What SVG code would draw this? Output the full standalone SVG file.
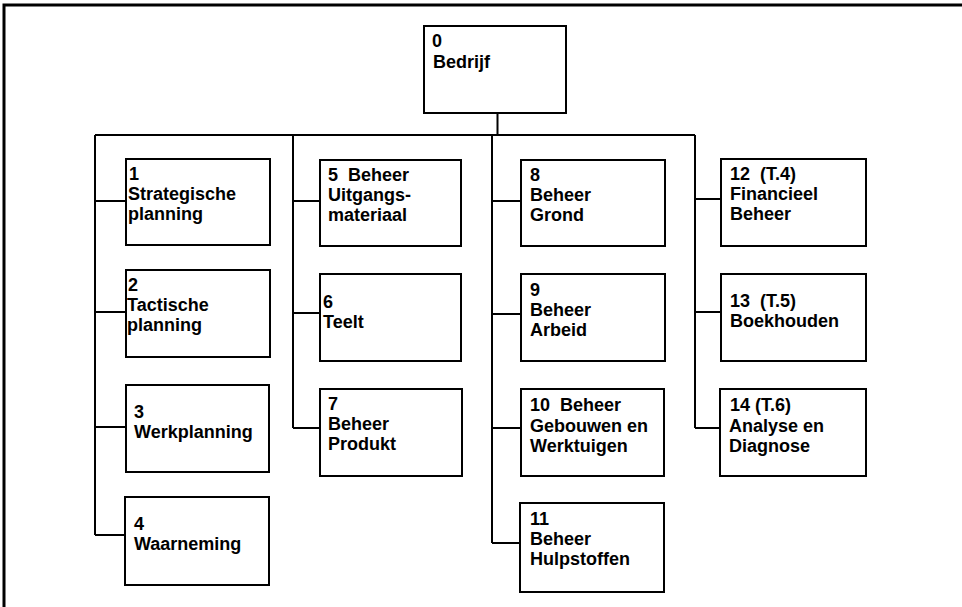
<svg xmlns="http://www.w3.org/2000/svg" width="962" height="607" viewBox="0 0 962 607">
<style>
.box{fill:#fff;stroke:#000;stroke-width:2}
.ln{fill:none;stroke:#000;stroke-width:2}
.fr{fill:none;stroke:#000;stroke-width:3}
text{font-family:"Liberation Sans",Arial,sans-serif;font-weight:bold;font-size:18px;fill:#000;white-space:pre}
</style>
<rect width="962" height="607" fill="#fff"/>
<path class="fr" d="M4,607 V5 H962"/>
<g id="connectors">
<path class="ln" d="M497.5,113 V135 M95,135 H695"/>
<path class="ln" d="M95,135 V535 M95,201 H126 M95,312 H126 M95,427 H126 M95,535 H126"/>
<path class="ln" d="M293,135 V428 M293,201 H320 M293,313 H320 M293,428 H320"/>
<path class="ln" d="M492,135 V543 M492,201 H521 M492,314 H521 M492,428 H521 M492,543 H521"/>
<path class="ln" d="M695,135 V428 M695,199 H721 M695,312 H721 M695,428 H721"/>
</g>
<g id="n0"><rect class="box" x="424" y="26" width="142" height="87"/><text x="432" y="47">0</text><text x="433" y="68">Bedrijf</text></g>
<g id="n1"><rect class="box" x="126" y="159" width="144" height="86"/><text x="129" y="180">1</text><text x="128" y="200">Strategische</text><text x="128" y="220">planning</text></g>
<g id="n2"><rect class="box" x="126" y="270" width="144" height="87"/><text x="128" y="291">2</text><text x="127" y="311">Tactische</text><text x="127" y="331">planning</text></g>
<g id="n3"><rect class="box" x="126" y="385" width="143" height="87"/><text x="134" y="418">3</text><text x="134" y="438">Werkplanning</text></g>
<g id="n4"><rect class="box" x="125" y="497" width="144" height="88"/><text x="134" y="530">4</text><text x="134" y="550">Waarneming</text></g>
<g id="n5"><rect class="box" x="320" y="160" width="141" height="86"/><text x="328" y="181">5  Beheer</text><text x="328" y="201">Uitgangs-</text><text x="328" y="221">materiaal</text></g>
<g id="n6"><rect class="box" x="320" y="274" width="141" height="87"/><text x="323" y="308">6</text><text x="323" y="328">Teelt</text></g>
<g id="n7"><rect class="box" x="320" y="389" width="142" height="87"/><text x="328" y="410">7</text><text x="328" y="430">Beheer</text><text x="328" y="450">Produkt</text></g>
<g id="n8"><rect class="box" x="521" y="160" width="144" height="86"/><text x="530" y="181">8</text><text x="530" y="201">Beheer</text><text x="530" y="221">Grond</text></g>
<g id="n9"><rect class="box" x="521" y="274" width="144" height="87"/><text x="530" y="296">9</text><text x="530" y="316">Beheer</text><text x="530" y="336">Arbeid</text></g>
<g id="n10"><rect class="box" x="521" y="389" width="143" height="87"/><text x="530" y="411">10  Beheer</text><text x="530" y="432">Gebouwen en</text><text x="530" y="452">Werktuigen</text></g>
<g id="n11"><rect class="box" x="520" y="503" width="144" height="89"/><text x="530" y="525">11</text><text x="530" y="545">Beheer</text><text x="530" y="565">Hulpstoffen</text></g>
<g id="n12"><rect class="box" x="721" y="159" width="145" height="87"/><text x="730" y="180">12  (T.4)</text><text x="730" y="200">Financieel</text><text x="730" y="220">Beheer</text></g>
<g id="n13"><rect class="box" x="721" y="274" width="145" height="87"/><text x="730" y="307">13  (T.5)</text><text x="730" y="327">Boekhouden</text></g>
<g id="n14"><rect class="box" x="720" y="389" width="146" height="87"/><text x="730" y="411">14 (T.6)</text><text x="729" y="432">Analyse en</text><text x="729" y="452">Diagnose</text></g>
</svg>
